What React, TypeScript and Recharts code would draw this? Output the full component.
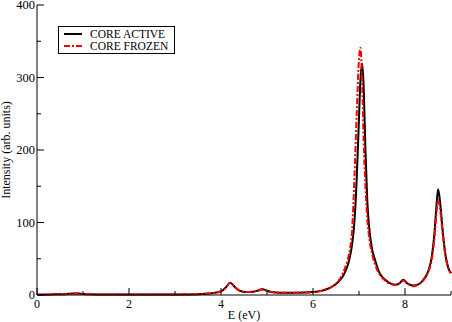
import { LineChart, Line, XAxis, YAxis } from 'recharts';

const energies = [
  0, 0.3, 0.6, 0.8, 0.9, 1.0, 1.3, 2, 3, 3.5, 3.8, 4.0, 4.1, 4.2, 4.3, 4.4, 4.55, 4.7, 4.8, 4.9,
  5.0, 5.1, 5.3, 5.6, 6.0, 6.2, 6.4, 6.55, 6.65, 6.75, 6.8, 6.85, 6.9, 6.95, 7.0, 7.03, 7.07, 7.1,
  7.14, 7.18, 7.22, 7.28, 7.35, 7.45, 7.55, 7.65, 7.78, 7.88, 7.96, 8.05, 8.18, 8.3, 8.4, 8.5,
  8.58, 8.64, 8.68, 8.72, 8.76, 8.82, 8.88, 8.94, 9.0,
];

const coreActive = [
  0.5, 0.8, 1.2, 2, 2, 1.3, 0.8, 0.6, 0.8, 1.2, 2.5, 5, 10, 17, 11, 6, 4, 4.5, 6, 8,
  6, 4, 3, 3, 4, 6, 11, 18, 26, 40, 52, 70, 100, 160, 245, 295, 319, 290,
  200, 130, 94, 65, 48, 30, 22, 17, 14, 16, 21, 16, 13, 15, 21, 32,
  52, 85, 120, 146, 130, 88, 55, 38, 30,
];

const coreFrozen = [
  0.5, 0.8, 1.2, 2, 2, 1.3, 0.8, 0.6, 0.8, 1.2, 2.5, 5, 10, 17, 11, 6, 4, 4.5, 6, 8,
  6, 4, 3, 3, 4, 6, 11, 19, 30, 48, 62, 90, 160, 250, 325, 341, 290, 215,
  150, 105, 80, 58, 42, 28, 21, 16, 14, 16, 20, 16, 12, 15, 20, 31,
  48, 78, 110, 131, 120, 84, 54, 37, 30,
];

const xTicks = [0, 1, 2, 3, 4, 5, 6, 7, 8, 9];
const yTicks = [0, 50, 100, 150, 200, 250, 300, 350, 400];

const data = energies.map((e, i) => ({ e, active: coreActive[i], frozen: coreFrozen[i] }));

const FONT = "'Liberation Serif', 'Times New Roman', serif";

function tickMark(side: 'bottom' | 'top' | 'left' | 'right', major: (v: number) => boolean, label: boolean) {
  return (props: any) => {
    const { x, y, payload } = props;
    const v = payload.value;
    const len = major(v) ? 7 : 4;
    let line;
    if (side === 'bottom') line = <line x1={x} y1={y} x2={x} y2={y - len} stroke="#000" />;
    else if (side === 'top') line = <line x1={x} y1={y} x2={x} y2={y + len} stroke="#000" />;
    else if (side === 'left') line = <line x1={x} y1={y} x2={x + len} y2={y} stroke="#000" />;
    else line = <line x1={x} y1={y} x2={x - len} y2={y} stroke="#000" />;
    return (
      <g>
        {line}
        {label && major(v) && side === 'bottom' && (
          <text x={x} y={y + 13} textAnchor="middle" fontSize={12} style={{ fontFamily: FONT }} fill="#000">
            {v}
          </text>
        )}
        {label && major(v) && side === 'left' && (
          <text x={x - 2} y={y + 4} textAnchor="end" fontSize={12.5} style={{ fontFamily: FONT }} fill="#000">
            {v}
          </text>
        )}
      </g>
    );
  };
}

function ChartLegend() {
  return (
    <div
      style={{
        position: 'absolute',
        left: 58,
        top: 26,
        border: '1px solid #000',
        background: '#fff',
        padding: '1px 6px 1px 3px',
        fontFamily: FONT,
        fontSize: 11.5,
        lineHeight: '12px',
        whiteSpace: 'nowrap',
      }}
    >
      <div style={{ display: 'flex', alignItems: 'center' }}>
        <svg width={22} height={12}>
          <line x1={2} y1={6} x2={20} y2={6} stroke="#000" strokeWidth={2} />
        </svg>
        <span style={{ marginLeft: 6 }}>CORE ACTIVE</span>
      </div>
      <div style={{ display: 'flex', alignItems: 'center' }}>
        <svg width={22} height={12}>
          <line x1={2} y1={6} x2={20} y2={6} stroke="#f00" strokeWidth={2} strokeDasharray="6 2 2 2" />
        </svg>
        <span style={{ marginLeft: 6 }}>CORE FROZEN</span>
      </div>
    </div>
  );
}

export default function App() {
  const isMajorX = (v: number) => v % 2 === 0;
  const isMajorY = (v: number) => v % 100 === 0;
  return (
    <div style={{ position: 'absolute', left: 0, top: 0, width: 452, height: 322, background: '#fff' }}>
      <LineChart width={452} height={322} data={data} margin={{ top: 5, right: 1, left: 0, bottom: 0 }}>
        <XAxis
          xAxisId="b"
          dataKey="e"
          type="number"
          domain={[0, 9]}
          ticks={xTicks}
          interval={0}
          height={27}
          tickSize={0}
          tickMargin={0}
          tickLine={false}
          axisLine={{ stroke: '#000' }}
          tick={tickMark('bottom', isMajorX, true)}
          label={{ value: 'E (eV)', position: 'insideBottom', offset: 3, fontSize: 12, fontFamily: FONT, fill: '#000' }}
        />
        <XAxis
          xAxisId="t"
          orientation="top"
          dataKey="e"
          type="number"
          domain={[0, 9]}
          ticks={xTicks}
          interval={0}
          height={0}
          tickSize={0}
          tickMargin={0}
          tickLine={false}
          axisLine={{ stroke: '#000' }}
          tick={tickMark('top', isMajorX, false)}
        />
        <YAxis
          yAxisId="l"
          type="number"
          domain={[0, 400]}
          ticks={yTicks}
          interval={0}
          width={37}
          tickSize={0}
          tickMargin={0}
          tickLine={false}
          axisLine={{ stroke: '#000' }}
          tick={tickMark('left', isMajorY, true)}
          label={{
            value: 'Intensity (arb. units)',
            angle: -90,
            position: 'insideLeft',
            offset: 0,
            dx: 6,
            fontSize: 12,
            fontFamily: FONT,
            fill: '#000',
            style: { textAnchor: 'middle' },
          }}
        />
        <YAxis
          yAxisId="r"
          orientation="right"
          type="number"
          domain={[0, 400]}
          ticks={yTicks}
          interval={0}
          width={0}
          tickSize={0}
          tickMargin={0}
          tickLine={false}
          axisLine={{ stroke: '#000' }}
          tick={tickMark('right', isMajorY, false)}
        />
        <Line
          xAxisId="b"
          yAxisId="l"
          dataKey="active"
          type="monotone"
          stroke="#000"
          strokeWidth={2}
          dot={false}
          isAnimationActive={false}
        />
        <Line
          xAxisId="b"
          yAxisId="l"
          dataKey="frozen"
          type="monotone"
          stroke="#f00"
          strokeWidth={2}
          strokeDasharray="6 2 2 2"
          dot={false}
          isAnimationActive={false}
        />
      </LineChart>
      <ChartLegend />
    </div>
  );
}
